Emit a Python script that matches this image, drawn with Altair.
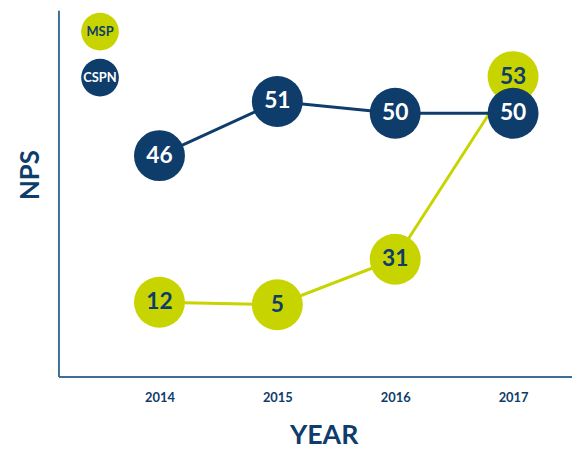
import altair as alt
import pandas as pd

years = [2014, 2015, 2016, 2017]
msp = [12, 5, 31, 53]
cspn = [46, 51, 50, 50]
series_names = ["MSP", "CSPN"]

LIME = "#c8d400"
NAVY = "#0e3c6b"
AXIS = "#3f6d94"
FONT = "Lato"

rows = []
for name, vals in (("MSP", msp), ("CSPN", cspn)):
    for yr, v in zip(years, vals):
        rows.append({"year": yr, "nps": v, "series": name})
df = pd.DataFrame(rows)

xs = alt.X("year:Q", scale=alt.Scale(domain=[2013.143, 2017.5], nice=False, zero=False),
           axis=alt.Axis(values=years, format="d", title="YEAR", grid=False, ticks=False,
                         labelFont=FONT, labelFontWeight="bold", labelFontSize=13,
                         labelColor=NAVY, labelPadding=15,
                         titleFont=FONT, titleFontWeight="bold", titleFontSize=27,
                         titleColor=NAVY, titlePadding=19, titleX=268,
                         domainColor=AXIS, domainWidth=2))
ys = alt.Y("nps:Q", scale=alt.Scale(type="pow", exponent=3, domain=[-36.0, 57.7], nice=False, zero=False),
           axis=alt.Axis(title="NPS", labels=False, ticks=False, grid=False,
                         titleFont=FONT, titleFontWeight="bold", titleFontSize=26,
                         titleColor=NAVY, titlePadding=15, titleY=166,
                         domainColor=AXIS, domainWidth=2))
col = alt.Color("series:N", scale=alt.Scale(domain=series_names, range=[LIME, NAVY]), legend=None)

base = alt.Chart(df)
lines = base.mark_line(strokeWidth=3).encode(x=xs, y=ys, color=col, detail="series:N")
dots = base.mark_circle(size=2650, opacity=1).encode(x=xs, y=ys, color=col)
labels = base.mark_text(font=FONT, fontWeight="bold", fontSize=23, baseline="middle").encode(
    x=xs, y=ys, text="nps:Q",
    color=alt.condition(alt.datum.series == "CSPN", alt.value("white"), alt.value(NAVY)))

leg_df = pd.DataFrame({"series": series_names})
leg_msp = alt.Chart(leg_df).transform_filter(alt.datum.series == "MSP")
leg_cspn = alt.Chart(leg_df).transform_filter(alt.datum.series == "CSPN")
l1 = leg_msp.mark_circle(size=1450, opacity=1, color=LIME).encode(x=alt.value(42), y=alt.value(21.5))
l1t = leg_msp.mark_text(font=FONT, fontWeight="bold", fontSize=13, color=NAVY).encode(
    x=alt.value(42), y=alt.value(21.5), text="series:N")
l2 = leg_cspn.mark_circle(size=1450, opacity=1, color=NAVY).encode(x=alt.value(42), y=alt.value(68))
l2t = leg_cspn.mark_text(font=FONT, fontWeight="bold", fontSize=13, color="white").encode(
    x=alt.value(42), y=alt.value(68), text="series:N")

chart = alt.layer(lines, dots, labels, l1, l1t, l2, l2t).properties(
    width=519, height=370, background="white",
    padding={"left": 10, "top": 0, "right": 0, "bottom": 0}
).configure_view(stroke=None)

chart.save("out.html", embed_options={"renderer": "svg", "actions": False})
